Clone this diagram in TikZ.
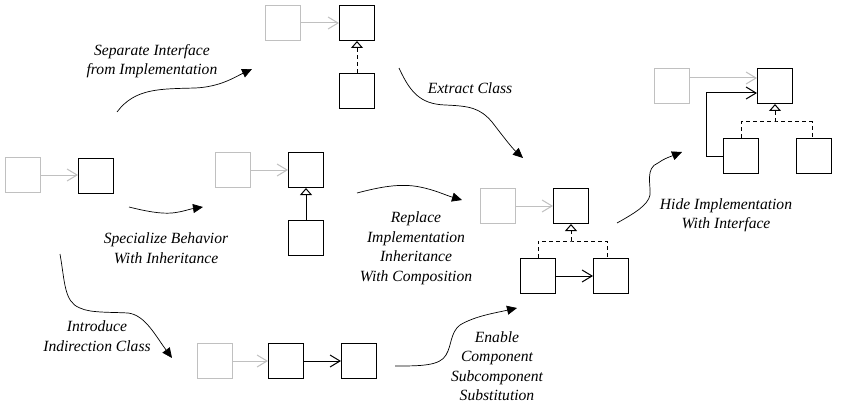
\documentclass[tikz,border=0pt]{standalone}
\usepackage{fontspec}
\setmainfont{Liberation Serif}
\usetikzlibrary{arrows.meta}
\definecolor{lightgr}{RGB}{192,192,192}
\tikzset{
  box/.style={draw, line width=1pt, minimum size=35pt, inner sep=0pt},
  gbox/.style={box, draw=lightgr},
  assoc/.style={line width=1pt, -{Straight Barb[length=10pt,width=12pt,line width=1pt]}},
  gassoc/.style={assoc, draw=lightgr},
  inherit/.style={line width=1pt, -{Triangle[open,length=7pt,width=12pt,fill=white,line width=1pt]}},
  dashline/.style={line width=1pt, dash pattern=on 4pt off 3pt},
  refact/.style={line width=0.7pt, -{Triangle[length=10pt,width=9pt]}},
  lbl/.style={font=\fontsize{15.6}{19.5}\selectfont\itshape, align=center, inner sep=0pt}
}
\begin{document}
\begin{tikzpicture}[x=1pt,y=-1pt]
\useasboundingbox (0,0) rectangle (848,417);
% top group
\node[gbox] (tg) at (283,23) {};
\node[box] (t1) at (357,23) {};
\node[box] (t2) at (357,91) {};
\draw[gassoc] (tg.east) -- (t1.west);
\draw[inherit,dashline] (t2.north) -- (t1.south);
% left group
\node[gbox] (lg) at (23,175) {};
\node[box] (l1) at (96,176) {};
\draw[gassoc] (lg.east) -- (lg.east -| l1.west);
% specialize group
\node[gbox] (sg) at (233,170) {};
\node[box] (s1) at (306,170) {};
\node[box] (s2) at (306,238) {};
\draw[gassoc] (sg.east) -- (s1.west);
\draw[inherit] (s2.north) -- (s1.south);
% bottom group
\node[gbox] (bg) at (215,361) {};
\node[box] (b1) at (286,361) {};
\node[box] (b2) at (359,361) {};
\draw[gassoc] (bg.east) -- (b1.west);
\draw[assoc] (b1.east) -- (b2.west);
% replace group
\node[gbox] (rg) at (498,206) {};
\node[box] (r1) at (571,206) {};
\node[box] (r2) at (538,276) {};
\node[box] (r3) at (611,276) {};
\coordinate (rm) at (571,241);
\draw[gassoc] (rg.east) -- (r1.west);
\draw[inherit,dashline] (rm) -- (r1.south);
\draw[dashline] (r2.north) |- (rm) -| ([xshift=-4pt]r3.north);
\draw[assoc] (r2.east) -- (r3.west);
% hide group
\node[gbox] (hg) at (672,86) {};
\node[box] (h1) at (775,86) {};
\node[box] (h2) at (741,156) {};
\node[box] (h3) at (814,156) {};
\coordinate (hm) at (775,122);
\draw[gassoc] ([yshift=8pt]hg.east) -- ([yshift=8pt]h1.west);
\draw[assoc] (h2.west) -- ++(-17,0) |- ([yshift=-7pt]h1.west);
\draw[inherit,dashline] (hm) -- (h1.south);
\draw[dashline] (h2.north) |- (hm) -| ([xshift=-2pt]h3.north);
% refactoring arrows
\coordinate (a1s) at (117,112); \coordinate (a1e) at (252,69);
\draw[refact] (a1s) .. controls (135,88) and (160,89) .. (195,88) .. controls (220,87) and (235,77) .. (a1e);
\coordinate (a2s) at (399,68); \coordinate (a2e) at (523,158);
\draw[refact] (a2s) .. controls (410,92) and (420,104) .. (445,105) .. controls (470,106) and (480,108) .. (492,122) .. controls (502,135) and (512,148) .. (a2e);
\coordinate (a3s) at (129,207); \coordinate (a3e) at (203,207);
\draw[refact] (a3s) .. controls (145,211) and (160,214) .. (172,213) .. controls (182,212) and (190,209) .. (a3e);
\coordinate (a4s) at (357,193); \coordinate (a4e) at (462,200);
\draw[refact] (a4s) .. controls (380,187) and (400,183) .. (420,187) .. controls (435,190) and (445,195) .. (a4e);
\coordinate (a5s) at (60,254); \coordinate (a5e) at (172,358);
\draw[refact] (a5s) .. controls (65,282) and (64,302) .. (80,308) .. controls (90,313) and (110,312) .. (128,313) .. controls (145,315) and (155,335) .. (a5e);
\coordinate (a6s) at (395,366); \coordinate (a6e) at (517,308);
\draw[refact] (a6s) .. controls (420,366) and (440,366) .. (446,355) .. controls (452,345) and (450,333) .. (460,325) .. controls (475,316) and (495,313) .. (a6e);
\coordinate (a7s) at (617,223); \coordinate (a7e) at (682,152);
\draw[refact] (a7s) .. controls (635,213) and (648,205) .. (650,195) .. controls (651,185) and (645,168) .. (658,163) .. controls (665,158) and (672,156) .. (a7e);
% labels
\node[lbl] (t-sep) at (152,61) {Separate Interface\\from Implementation};
\node[lbl] (t-ext) at (470,88) {Extract Class};
\node[lbl] (t-spe) at (166,248) {Specialize Behavior\\With Inheritance};
\node[lbl] (t-rep) at (416,248) {Replace\\Implementation\\Inheritance\\With Composition};
\node[lbl] (t-int) at (97,336) {Introduce\\Indirection Class};
\node[lbl] (t-ena) at (497,366) {Enable\\Component\\Subcomponent\\Substitution};
\node[lbl] (t-hid) at (726,215) {Hide Implementation\\With Interface};
\end{tikzpicture}
\end{document}
